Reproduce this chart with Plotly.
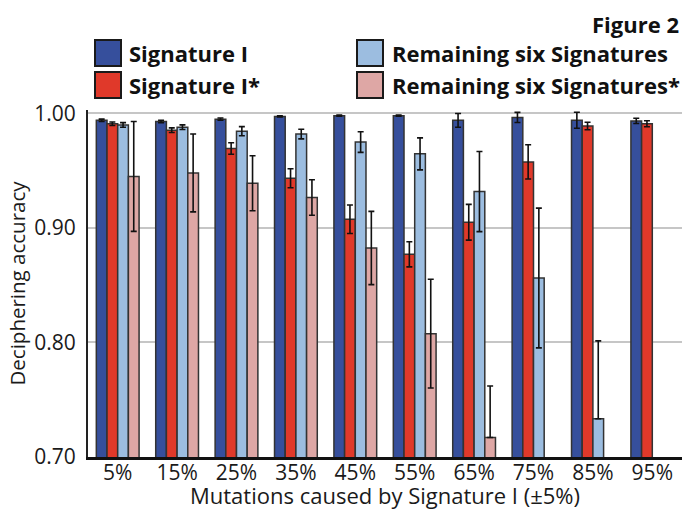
import plotly.graph_objects as go

categories = ["5%", "15%", "25%", "35%", "45%", "55%", "65%", "75%", "85%", "95%"]

sig1 = [0.994, 0.993, 0.995, 0.9974, 0.998, 0.998, 0.994, 0.9965, 0.994, 0.9935]
sig1_err = [0.001, 0.001, 0.001, 0.0005, 0.0005, 0.0005, 0.006, 0.0044, 0.007, 0.0023]

sig1s = [0.991, 0.9854, 0.9694, 0.9434, 0.9076, 0.877, 0.905, 0.9577, 0.989, 0.991]
sig1s_err = [0.0015, 0.002, 0.005, 0.0083, 0.0124, 0.011, 0.0156, 0.015, 0.0033, 0.0026]

rem = [0.990, 0.988, 0.9845, 0.982, 0.975, 0.9647, 0.9318, 0.8563, 0.7334, None]
rem_err_plus = [0.002, 0.002, 0.004, 0.0042, 0.009, 0.014, 0.035, 0.061, 0.068, None]
rem_err_minus = [0.002, 0.002, 0.004, 0.0042, 0.009, 0.014, 0.035, 0.061, 0.0, None]

rems = [0.945, 0.948, 0.939, 0.9266, 0.8825, 0.8077, 0.717, None, None, None]
rems_err_plus = [0.048, 0.034, 0.024, 0.0155, 0.032, 0.0475, 0.045, None, None, None]
rems_err_minus = [0.048, 0.034, 0.024, 0.0155, 0.032, 0.0475, 0.0, None, None, None]

series_names = ["Signature I", "Signature I*", "Remaining six Signatures", "Remaining six Signatures*"]
colors = ["#364f9c", "#e0392a", "#9cbde0", "#dea7a5"]

FONT = "Open Sans"
OUTLINE = "#333333"

fig = go.Figure()
data = [
    (sig1, sig1_err, sig1_err),
    (sig1s, sig1s_err, sig1s_err),
    (rem, rem_err_plus, rem_err_minus),
    (rems, rems_err_plus, rems_err_minus),
]
for (vals, ep, em), name, col in zip(data, series_names, colors):
    fig.add_trace(go.Bar(
        x=categories, y=vals, name=name, showlegend=False,
        marker=dict(color=col, line=dict(color=OUTLINE, width=1.5)),
        error_y=dict(type="data", symmetric=False, array=ep, arrayminus=em,
                     color="#111111", thickness=1.6, width=3),
        cliponaxis=False,
    ))

# plot area geometry (pixels) used to place the custom legend
W, H = 682, 510
ML, MR, MT, MB = 88, 0, 110, 53
PW, PH = W - ML - MR, H - MT - MB


def px(x):
    return (x - ML) / PW


def py(y):
    return (H - MB - y) / PH


legend_cols = [(95, 127), (357, 390)]
legend_rows = [(40, 53), (72, 85)]
order = [(0, 0), (1, 0), (0, 1), (1, 1)]  # (row, col) per series
shapes = []
annotations = []
for i, (r, c) in enumerate(order):
    sx, tx = legend_cols[c]
    sy, ty = legend_rows[r]
    shapes.append(dict(type="rect", xref="paper", yref="paper",
                       x0=px(sx), x1=px(sx + 26), y0=py(sy), y1=py(sy + 26),
                       fillcolor=colors[i], line=dict(color="#1a1a1a", width=2)))
    annotations.append(dict(xref="paper", yref="paper", x=px(tx), y=py(ty),
                            xanchor="left", yanchor="middle", showarrow=False,
                            text="<b>" + series_names[i] + "</b>",
                            font=dict(family=FONT, size=22, color="#111111")))
annotations.append(dict(xref="paper", yref="paper", x=px(681), y=py(24),
                        xanchor="right", yanchor="middle", showarrow=False,
                        text="<b>Figure 2</b>",
                        font=dict(family=FONT, size=22, color="#111111")))

fig.update_layout(
    width=W, height=H,
    margin=dict(l=ML, r=MR, t=MT, b=MB),
    paper_bgcolor="white", plot_bgcolor="white",
    barmode="group", bargap=0.28, bargroupgap=0,
    font=dict(family=FONT, size=21, color="#1a1a1a"),
    shapes=shapes, annotations=annotations,
    xaxis=dict(
        range=[-0.5, 9.5], showline=True, linecolor="#111111", linewidth=2.5,
        showgrid=False, ticks="", tickfont=dict(size=21), ticklabelstandoff=-5,
        title=dict(text="Mutations caused by Signature I (±5%)", font=dict(size=22), standoff=6),
    ),
    yaxis=dict(
        range=[0.70, 1.003], tickvals=[0.70, 0.80, 0.90, 1.00], tickformat=".2f",
        showline=True, linecolor="#222222", linewidth=2,
        showgrid=True, gridcolor="#c6c6c6", gridwidth=1.5, zeroline=False,
        ticks="", ticklabelstandoff=6, tickfont=dict(size=21),
        title=dict(text="Deciphering accuracy", font=dict(size=20.5), standoff=3),
    ),
)

fig.write_html("out.html")
